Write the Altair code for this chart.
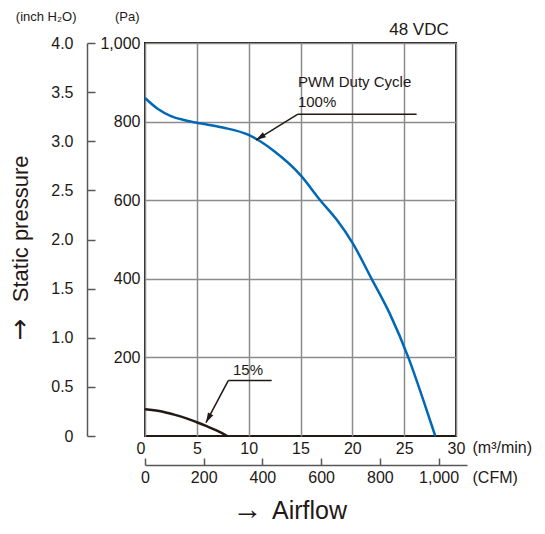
import altair as alt
import pandas as pd

# ---- data ----
flow_100 = [0, 1.25, 2.5, 3.75, 5, 7.5, 10, 12.5, 15, 16.9, 18.5, 20, 21.86, 23.6, 25.4, 26.84, 28.0]
pa_100 = [860, 832, 814, 804, 797, 785, 766, 724, 664, 600, 550, 492, 400, 312, 200, 92, 0]

flow_15 = [0, 1.5, 2.73, 4, 5, 5.95, 7, 7.94]
pa_15 = [68, 63, 55, 45, 35, 25, 13, 0]

flow_ticks = [0, 5, 10, 15, 20, 25, 30]
pa_ticks = [200, 400, 600, 800, 1000]
inch_ticks = [0, 0.5, 1.0, 1.5, 2.0, 2.5, 3.0, 3.5, 4.0]
cfm_ticks = [0, 200, 400, 600, 800, 1000]

# leader lines of the annotations (data units: m3/min, Pa)
seg_x = [14.75, 14.75, 8.03, 8.03]
seg_y = [819, 819, 141, 141]
seg_x2 = [26.2, 10.7, 12.22, 5.88]
seg_y2 = [819, 753, 141, 34]
tip_x = [10.7, 5.88]
tip_y = [753, 34]
tip_angle = [238, 208]

FONT = "Liberation Sans"
INK = "#231815"
BLUE = "#0068b7"
GRID = "#8c8c8c"
AX = "#595757"

W, H = 311, 393
CFM_PER_M3 = 35.3147
cfm_range = 322
cfm_max = cfm_range / (W / 30) * CFM_PER_M3

xscale = alt.Scale(domain=[0, 30], nice=False, zero=True)
yscale = alt.Scale(domain=[0, 1000], nice=False, zero=True)

xaxis = alt.Axis(
    values=flow_ticks, orient="bottom", ticks=False, domain=False,
    grid=True, gridColor=GRID, gridWidth=1.5,
    labelFontSize=16, labelColor=INK, labelFont=FONT, labelPadding=4,
    labelFlush=False, labelOverlap=False, labelBound=False,
    labelExpr="datum.value == 0 ? '0\u00a0' : datum.label",
    labelAlign={"condition": {"test": "datum.value == 0", "value": "right"}, "value": "center"},
    title="(m³/min)", titleAngle=0, titleX=327, titleY=16, titleAlign="left",
    titleBaseline="alphabetic", titleFontSize=16, titleFontWeight="normal",
    titleColor=INK, titleFont=FONT,
)
yaxis = alt.Axis(
    values=pa_ticks, orient="left", ticks=False, domain=False, format=",.0f",
    grid=True, gridColor=GRID, gridWidth=1.5,
    labelFontSize=16, labelColor=INK, labelFont=FONT, labelPadding=5,
    labelOverlap=False, labelBound=False,
    title="(Pa)", titleAngle=0, titleX=-6, titleY=-23, titleAlign="right",
    titleBaseline="alphabetic", titleFontSize=13, titleFontWeight="normal",
    titleColor=INK, titleFont=FONT,
)

X = alt.X("flow:Q", scale=xscale, axis=xaxis)
Y = alt.Y("pa:Q", scale=yscale, axis=yaxis)
X2 = alt.X2("flow2:Q")
Y2 = alt.Y2("pa2:Q")

df100 = pd.DataFrame({"flow": flow_100, "pa": pa_100})
df15 = pd.DataFrame({"flow": flow_15, "pa": pa_15})
dfseg = pd.DataFrame({"flow": seg_x, "pa": seg_y, "flow2": seg_x2, "pa2": seg_y2})
dftip = pd.DataFrame({"flow": tip_x, "pa": tip_y, "ang": tip_angle})

line100 = alt.Chart(df100).mark_line(color=BLUE, strokeWidth=2.5, interpolate="monotone").encode(x=X, y=Y)
line15 = alt.Chart(df15).mark_line(color=INK, strokeWidth=2.5, interpolate="monotone").encode(x=X, y=Y)
segs = alt.Chart(dfseg).mark_rule(color=INK, strokeWidth=1.5).encode(x=X, y=Y, x2=X2, y2=Y2)
tips = alt.Chart(dftip).mark_point(
    shape="M0,0L-0.3,1L0.3,1Z", filled=True, size=400, color=INK, opacity=1, strokeWidth=0
).encode(x=X, y=Y, angle=alt.Angle("ang:Q", scale=None))


def txt(labels, xs, ys, align, size, angle=0, baseline="alphabetic", font=FONT):
    df = pd.DataFrame({"flow": xs, "pa": ys, "label": labels})
    return alt.Chart(df).mark_text(
        align=align, baseline=baseline, fontSize=size, angle=angle, font=font, color=INK
    ).encode(x=X, y=Y, text="label:N")


t_pwm = txt(["PWM Duty Cycle", "100%"], [14.75, 14.75], [888, 837], "left", 15)
t_15 = txt(["15%"], [8.49], [155], "left", 15)
t_vdc = txt(["48 VDC"], [29.3], [1020], "right", 17)
t_air_arrow = txt(["→"], [9.88], [-211], "center", 30)
t_air = txt(["Airflow"], [12.25], [-211], "left", 25)
t_sp_arrow = txt(["↑"], [-12.05], [247], "center", 26, font="DejaVu Sans")
t_sp = txt(["Static pressure"], [-11.28], [527], "center", 22, angle=270)

main = alt.layer(line100, line15, segs, tips, t_pwm, t_15, t_vdc, t_air_arrow, t_air, t_sp_arrow, t_sp)

# inch H2O axis (left, ticks pointing into the chart)
inch_df = pd.DataFrame({"inch": [0, 4]})
inch_layer = alt.Chart(inch_df).mark_point(opacity=0).encode(
    y=alt.Y(
        "inch:Q",
        scale=alt.Scale(domain=[0, 4], nice=False),
        axis=alt.Axis(
            orient="right", offset=-369, values=inch_ticks, grid=False,
            domain=True, domainColor=AX, domainWidth=1.5,
            ticks=True, tickSize=8, tickColor=AX, tickWidth=1.5,
            labelAlign="right", labelBaseline="middle", labelPadding=-22,
            labelFontSize=16, labelColor=INK, labelFont=FONT,
            labelOverlap=False, labelBound=False,
            labelExpr="datum.value == 0 ? '0' : format(datum.value, '.1f')",
            title="(inch H₂O)", titleAngle=0, titleX=-11, titleY=-23, titleAlign="right",
            titleBaseline="alphabetic", titleFontSize=13, titleFontWeight="normal",
            titleColor=INK, titleFont=FONT,
        ),
    )
)

# CFM axis (below, ticks pointing up)
cfm_df = pd.DataFrame({"cfm": [0, 1000]})
cfm_layer = alt.Chart(cfm_df).mark_point(opacity=0).encode(
    x=alt.X(
        "cfm:Q",
        scale=alt.Scale(domain=[0, cfm_max], range=[0, cfm_range], nice=False),
        axis=alt.Axis(
            orient="top", offset=-422, values=cfm_ticks, grid=False, format=",.0f",
            domain=True, domainColor=AX, domainWidth=1.5,
            ticks=True, tickSize=7, tickColor=AX, tickWidth=1.5,
            labelBaseline="alphabetic", labelPadding=-24, labelAlign="center",
            labelFontSize=16, labelColor=INK, labelFont=FONT,
            labelFlush=False, labelOverlap=False, labelBound=False,
            title="(CFM)", titleAngle=0, titleX=327, titleY=17, titleAlign="left",
            titleBaseline="alphabetic", titleFontSize=16, titleFontWeight="normal",
            titleColor=INK, titleFont=FONT,
        ),
    )
)

chart = alt.layer(main, inch_layer, cfm_layer).resolve_scale(
    x="independent", y="independent"
).properties(
    width=W, height=H,
    autosize=alt.AutoSizeParams(type="none"),
    padding={"left": 137, "top": 35, "right": 81, "bottom": 90},
).configure(font=FONT).configure_view(stroke=INK, strokeWidth=2)

chart.save("out.html", embed_options={"renderer": "svg", "actions": False})
